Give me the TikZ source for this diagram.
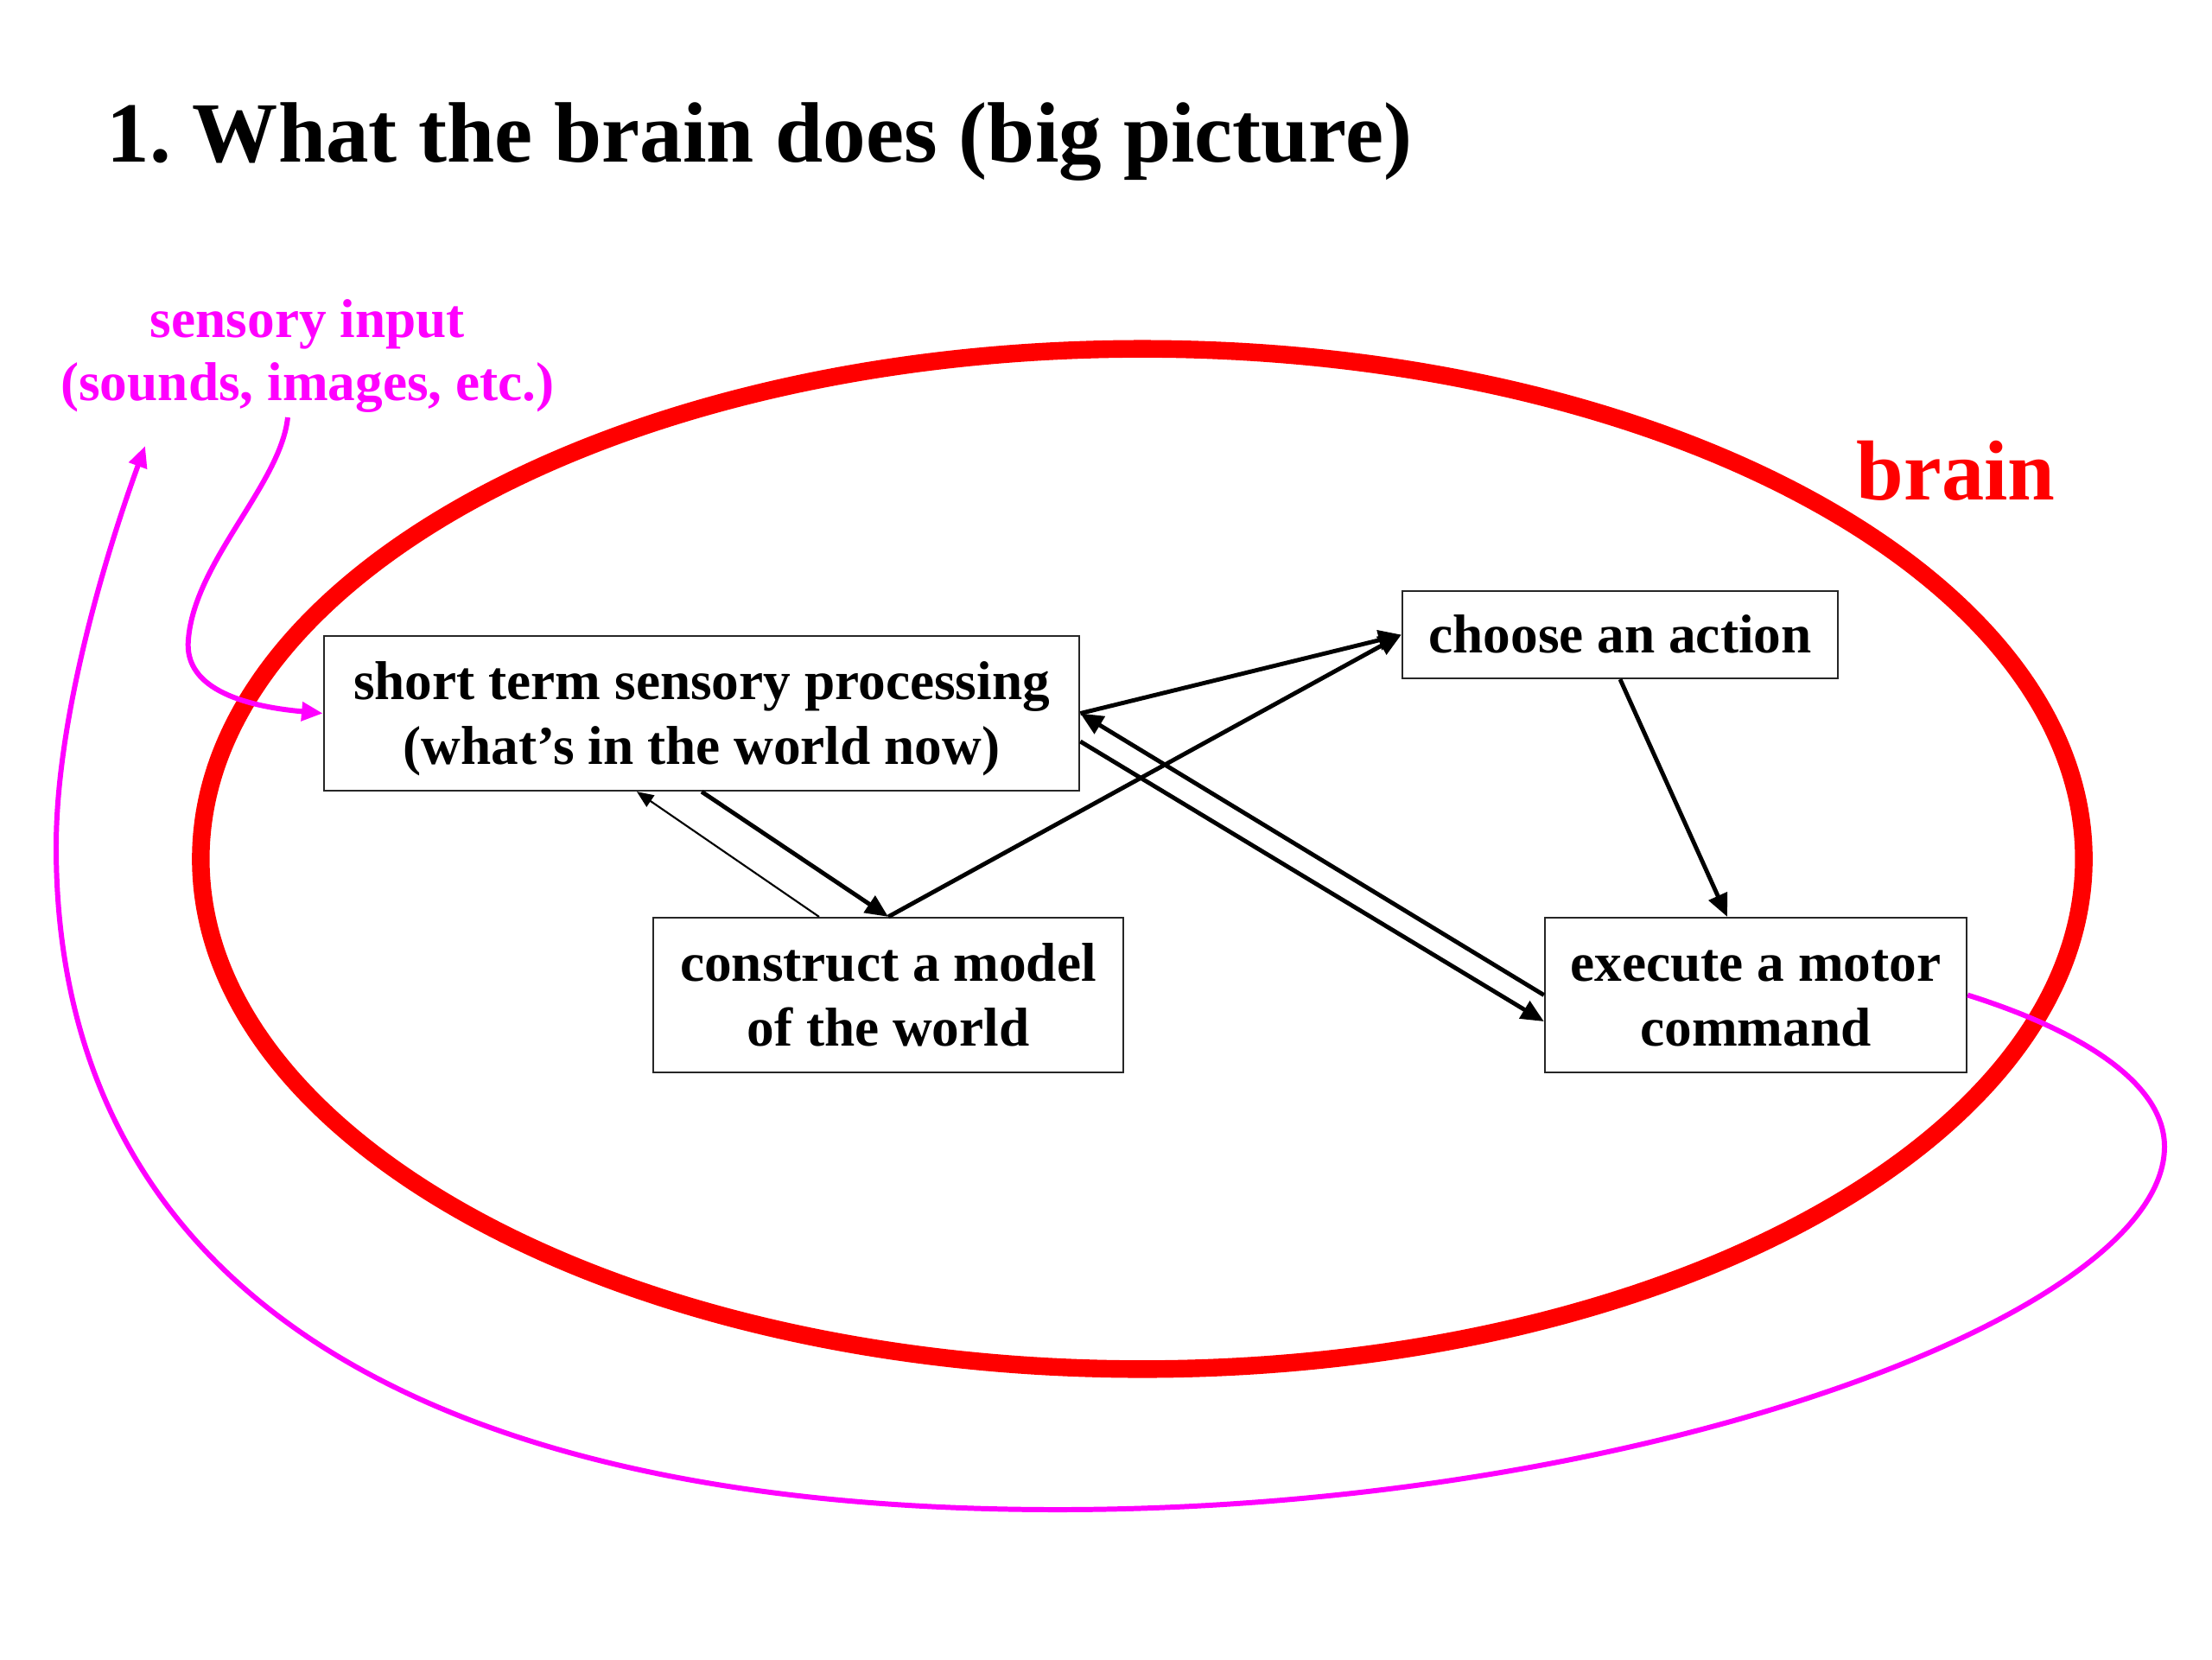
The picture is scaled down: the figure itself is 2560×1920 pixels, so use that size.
\documentclass[tikz,border=0pt]{standalone}
\usepackage{fontspec}
\setmainfont{Liberation Serif}
\usetikzlibrary{arrows.meta,calc}
\definecolor{mag}{RGB}{255,0,255}
\definecolor{brainred}{RGB}{255,0,0}
\newcommand\mytop{\rule{0pt}{0.891em}}
\newcommand\mybot{\rule[-0.216em]{0pt}{0.216em}}
\begin{document}
\begin{tikzpicture}[x=0.01cm,y=-0.01cm,
  box/.style={draw=black!85, line width=0.6pt, inner sep=0pt, align=center,
    font=\fontsize{18}{21.3}\selectfont\bfseries},
  thickarr/.style={line width=1.4pt, -{Triangle[length=7.5pt,width=6.5pt]}},
  thinarr/.style={line width=0.6pt, -{Triangle[length=5.5pt,width=4.5pt]}},
  magarr/.style={draw=mag, line width=1.7pt, -{Triangle[length=7pt,width=6pt]}}]
\useasboundingbox (0,0) rectangle (2560,1920);
\fill[white] (0,0) rectangle (2560,1920);
\node[anchor=base west, inner sep=0pt, font=\fontsize{28.2}{34}\selectfont\bfseries] (title) at (123,187) {1.\ What the brain does (big picture)};
\draw[brainred, line width=5.8pt] (1322,994) ellipse [x radius=10.89cm, y radius=5.90cm];
\node[anchor=base west, inner sep=0pt, text=brainred, font=\fontsize{28}{34}\selectfont\bfseries] (brainlbl) at (2148,578) {brain};
\node[text=mag, align=center, inner sep=0pt, font=\fontsize{18}{20.8}\selectfont\bfseries] (sens) at (356,412) {sensory input\\(sounds, images, etc.)};
\node[box, minimum width=8.74cm, minimum height=1.79cm] (short) at (812,825.5) {\mytop short term sensory processing\\(what’s in the world now)\mybot};
\node[box, minimum width=5.04cm, minimum height=1.01cm] (choose) at (1875,734.5) {\mytop choose an action\mybot};
\node[box, minimum width=5.44cm, minimum height=1.79cm] (model) at (1028,1151.5) {\mytop construct a model\\of the world\mybot};
\node[box, minimum width=4.88cm, minimum height=1.79cm] (exec) at (2032,1151.5) {\mytop execute a motor\\command\mybot};
% connectors
\draw[thickarr] (short.east) -- (choose.west);
\draw[thickarr] (model.north) -- (choose.west);
\draw[thickarr] (exec.west) -- (short.east);
\draw[thickarr] ([yshift=-0.325cm]short.east) -- ([yshift=-0.305cm]exec.west);
\draw[thickarr] (short.south) -- (model.north);
\draw[thinarr] ([xshift=-0.8cm]model.north) -- ([xshift=-0.75cm]short.south);
\draw[thickarr] (choose.south) -- ([xshift=-0.33cm]exec.north);
% magenta
\coordinate (sstart) at (333,483);
\coordinate (loopend) at (168,516);
\draw[magarr] (sstart) .. controls (325,560) and (225,650) .. (218,740)
  .. controls (212,800) and (290,818) .. (short.west);
\draw[magarr] (exec.east) .. controls (2400,1190) and (2505,1250) .. (2505,1327)
  .. controls (2505,1520) and (1900,1747) .. (1224,1747)
  .. controls (470,1747) and (65,1480) .. (65,980)
  .. controls (65,820) and (130,620) .. (loopend);
\end{tikzpicture}
\end{document}
